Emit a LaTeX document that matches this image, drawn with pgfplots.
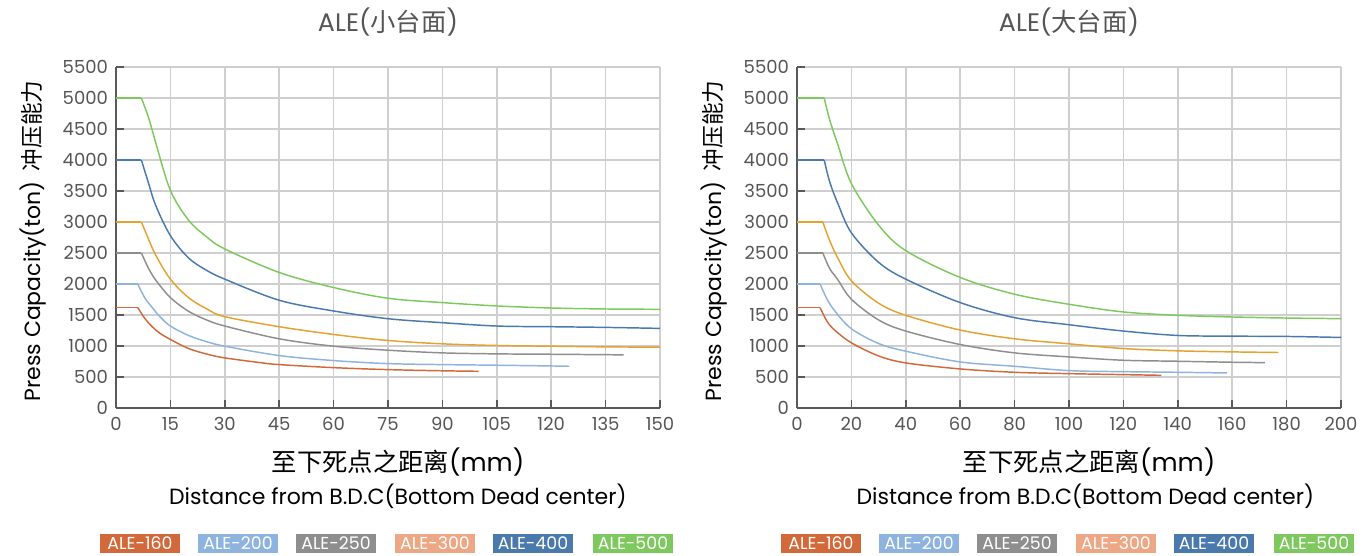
\documentclass[border=0pt]{standalone}
\usepackage{pgfplots}
\pgfplotsset{compat=1.18}
\usepackage{fontspec}
\setmainfont{Poppins}
\newfontfamily\cjk{Noto Sans CJK SC}

\definecolor{c160}{HTML}{D2693A}
\definecolor{c200}{HTML}{8DB3DE}
\definecolor{c250}{HTML}{8E8E8E}
\definecolor{c300}{HTML}{E4A22F}
\definecolor{c300l}{HTML}{EDA784}
\definecolor{c400}{HTML}{4A79AE}
\definecolor{c500}{HTML}{7DC95E}
\definecolor{axisgray}{HTML}{595959}
\definecolor{gridgray}{HTML}{CFCFCF}
\definecolor{labgray}{HTML}{555555}

\pgfplotsset{
  alestyle/.style={
    width=408pt, height=255.75pt, scale only axis,
    clip mode=individual,
    axis lines=left,
    axis line style={-, draw=axisgray, line width=1.2pt},
    grid=major,
    grid style={draw=gridgray, line width=1.1pt},
    ymin=0, ymax=5500, ytick={0,500,...,5500},
    xmin=0,
    tick align=inside, major tick length=6pt,
    tick style={draw=axisgray, line width=1.2pt},
    ticklabel style={font=\fontsize{13.5}{15}\selectfont, text=labgray},
    yticklabel style={xshift=-2.5pt},
    xticklabel style={yshift=-3.5pt},
    /pgf/number format/assume math mode=true,
    /pgf/number format/1000 sep={},
    title style={at={(axis description cs:0.5,1)}, anchor=center, yshift=27.5pt,
      font=\fontsize{19}{21}\selectfont, text=labgray},
    ylabel style={at={(axis description cs:-0.1526,0.49)}, anchor=center,
      font=\fontsize{16.5}{18}\selectfont, text=black},
    ylabel={Press Capacity(ton)\hspace{0.45em}{\cjk\fontsize{17}{20}\selectfont 冲压能力}},
    xlabel style={at={(axis description cs:0.5,-0.158)}, anchor=center,
      font=\fontsize{19}{22}\selectfont, text=black},
    xlabel={{\cjk 至下死点之距离}(mm)},
    every axis plot/.append style={line width=1.1pt, no markers},
  },
  knee/.style={smooth, tension=0.55},
}

\begin{document}
\begin{tikzpicture}
\useasboundingbox (-87pt,-111pt) rectangle (936pt,306pt);

% ---- left: small bed
\begin{axis}[alestyle, at={(0,0)}, anchor=south west,
  xmax=150, xtick={0,15,...,150}, title={ALE({\cjk 小台面})},
  xlabel style={xshift=7.5pt}]
\addplot[c160] coordinates {(0,1620)(6,1620)};
\addplot[c160, knee] coordinates {(6,1620)(8,1440)(10,1310)(12,1210)(15,1105)(20,960)(25,870)(30,808)(40,730)(45,700)(60,651)(75,619)(90,600)(100,592)};
\addplot[c200] coordinates {(0,2000)(6,2000)};
\addplot[c200, knee] coordinates {(6,2000)(8,1770)(10,1620)(12,1480)(15,1322)(20,1170)(25,1070)(30,997)(45,846)(60,765)(75,716)(90,700)(105,690)(120,678)(125,673)};
\addplot[c250] coordinates {(0,2500)(7,2500)};
\addplot[c250, knee] coordinates {(7,2500)(9,2250)(11,2060)(15,1781)(20,1560)(25,1420)(30,1322)(45,1116)(60,997)(75,932)(90,889)(105,873)(120,867)(140,857)};
\addplot[c300] coordinates {(0,3000)(7,3000)};
\addplot[c300, knee] coordinates {(7,3000)(9,2720)(11,2460)(15,2078)(20,1780)(25,1600)(30,1473)(45,1311)(60,1186)(75,1089)(90,1035)(105,1008)(120,997)(135,986)(150,981)};
\addplot[c400] coordinates {(0,4000)(7,4000)};
\addplot[c400, knee] coordinates {(7,4000)(9,3620)(11,3260)(15,2780)(20,2420)(25,2220)(30,2078)(45,1738)(60,1565)(75,1440)(90,1376)(105,1322)(120,1311)(135,1300)(150,1284)};
\addplot[c500] coordinates {(0,5000)(7,5000)};
\addplot[c500, knee] coordinates {(7,5000)(9,4680)(11,4270)(15,3510)(20,3030)(25,2760)(30,2565)(45,2186)(60,1943)(75,1770)(90,1700)(105,1646)(120,1613)(135,1597)(150,1592)};
\node[font=\fontsize{16.5}{19}\selectfont] at (axis description cs:0.518,-0.258) {Distance from B.D.C(Bottom Dead center)};
\end{axis}

% ---- right: large bed
\begin{axis}[alestyle, at={(510.75pt,0)}, anchor=south west,
  xmax=200, xtick={0,20,...,200}, title={ALE({\cjk 大台面})},
  xlabel style={xshift=15pt}]
\addplot[c160] coordinates {(0,1620)(8.5,1620)};
\addplot[c160, knee] coordinates {(8.5,1620)(11,1400)(14,1250)(20,1051)(30,840)(40,727)(60,630)(80,576)(100,554)(120,538)(134,527)};
\addplot[c200] coordinates {(0,2000)(8.5,2000)};
\addplot[c200, knee] coordinates {(8.5,2000)(11,1760)(14,1560)(20,1278)(30,1040)(40,916)(60,743)(80,673)(100,603)(120,586)(140,576)(158,565)};
\addplot[c250] coordinates {(0,2500)(9.5,2500)};
\addplot[c250, knee] coordinates {(9.5,2500)(12,2250)(15,2070)(20,1754)(30,1420)(40,1241)(60,1024)(80,889)(100,824)(120,770)(140,754)(160,738)(172,732)};
\addplot[c300] coordinates {(0,3000)(9.5,3000)};
\addplot[c300, knee] coordinates {(9.5,3000)(12,2700)(15,2420)(20,2051)(30,1690)(40,1495)(60,1257)(80,1116)(100,1035)(120,959)(140,922)(160,905)(177,895)};
\addplot[c400] coordinates {(0,4000)(10,4000)};
\addplot[c400, knee] coordinates {(10,4000)(12,3650)(15,3300)(20,2825)(30,2350)(40,2078)(60,1700)(80,1457)(100,1343)(120,1241)(140,1170)(160,1159)(180,1154)(200,1138)};
\addplot[c500] coordinates {(0,5000)(10,5000)};
\addplot[c500, knee] coordinates {(10,5000)(12,4650)(15,4250)(20,3620)(30,2950)(40,2538)(60,2105)(80,1835)(100,1673)(120,1549)(140,1495)(160,1468)(180,1451)(200,1441)};
\node[font=\fontsize{16.5}{19}\selectfont] at (axis description cs:0.53,-0.258) {Distance from B.D.C(Bottom Dead center)};
\end{axis}

% ---- legends (boxes with white text)
\begin{scope}[x=0.75pt, y=0.75pt,
  lg/.style={text=white, minimum width=60pt, minimum height=14.5pt, inner sep=0pt,
    font=\fontsize{13}{15}\selectfont}]
\foreach \dx in {0,681} {
  \node[lg, fill=c160] at (\dx+24,-135.5) {ALE-160};
  \node[lg, fill=c200] at (\dx+122,-135.5) {ALE-200};
  \node[lg, fill=c250] at (\dx+220,-135.5) {ALE-250};
  \node[lg, fill=c300l] at (\dx+319,-135.5) {ALE-300};
  \node[lg, fill=c400] at (\dx+417,-135.5) {ALE-400};
  \node[lg, fill=c500] at (\dx+517,-135.5) {ALE-500};
}
\end{scope}
\end{tikzpicture}
\end{document}
